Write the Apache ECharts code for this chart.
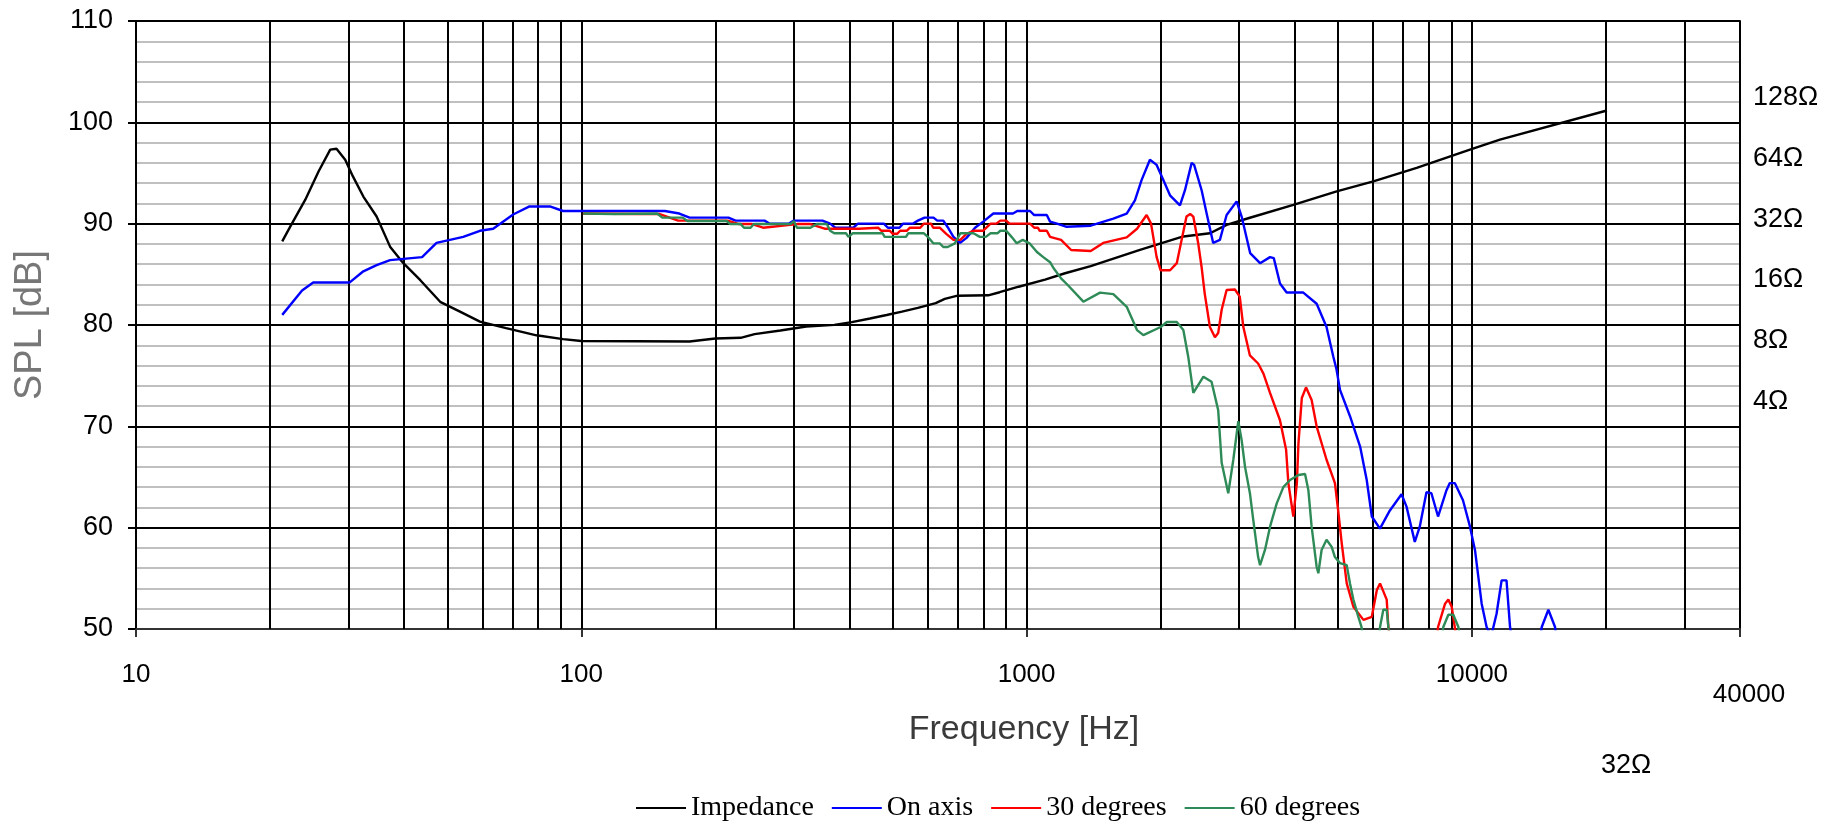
<!DOCTYPE html>
<html>
<head>
<meta charset="utf-8">
<title>SPL / Impedance</title>
<script src="https://cdn.jsdelivr.net/npm/echarts@6/dist/echarts.min.js"></script>
<style>
  html, body { margin: 0; padding: 0; background: #fff; }
  #chart { width: 1829px; height: 822px; }
</style>
</head>
<body>
<div id="chart"></div>
<script>
// [Hz, ohm]
const impedance = [
  [21.3, 20.7], [22.2, 24.5], [24.0, 33.3], [25.7, 45.9], [27.3, 58.9], [28.2, 59.5], [29.5, 52.5],
  [30.7, 43.4], [32.4, 34.5], [34.7, 27.5], [37.2, 19.5], [39.8, 16.2], [43.5, 13.3], [48.2, 10.4],
  [53.4, 9.3], [59.2, 8.3], [67.8, 7.7], [79.3, 7.1], [91, 6.8], [100, 6.65], [175, 6.62], [200, 6.85],
  [228, 6.9], [245, 7.2], [280, 7.5], [320, 7.85], [370, 8.0], [405, 8.25], [445, 8.6], [485, 8.95],
  [525, 9.3], [570, 9.7], [625, 10.25], [655, 10.75], [700, 11.15], [820, 11.2], [870, 11.6],
  [960, 12.35], [1100, 13.4], [1220, 14.4], [1393, 15.6], [1797, 18.8], [2249, 21.9], [2582, 22.7],
  [2813, 25.0], [3173, 27.1], [3972, 31.4], [4970, 36.6], [6007, 41.0], [7516, 47.8], [9900, 58.9],
  [11560, 66.0], [20100, 92.0]
];

// [Hz, dB]
const onAxis = [
  [21.3, 81.0], [23.6, 83.4], [25.0, 84.2], [30.2, 84.2], [32.4, 85.3], [34.7, 85.9], [37.2, 86.4],
  [43.9, 86.7], [47.3, 88.1], [54.3, 88.7], [59.2, 89.3], [63.4, 89.5], [70.3, 90.9], [76.5, 91.7],
  [85, 91.7], [91, 91.25], [154, 91.25], [166, 91.0], [175, 90.6], [214, 90.6], [222, 90.3],
  [258, 90.3], [265, 90.0], [292, 90.0], [300, 90.3], [348, 90.3], [362, 90.0], [372, 89.6],
  [408, 89.6], [418, 90.0], [478, 90.0], [488, 89.6], [518, 89.6], [528, 90.0], [555, 90.0],
  [570, 90.3], [590, 90.6], [618, 90.6], [630, 90.3], [650, 90.3], [665, 89.65], [685, 88.7],
  [709, 88.1], [733, 88.6], [766, 89.6], [799, 90.2], [842, 91.0], [932, 91.0], [953, 91.25],
  [1018, 91.25], [1040, 90.85], [1110, 90.85], [1129, 90.2], [1170, 90.0], [1226, 89.7], [1393, 89.8],
  [1566, 90.5], [1678, 91.0], [1751, 92.3], [1812, 94.3], [1892, 96.3], [1959, 95.8], [2028, 94.3],
  [2099, 92.8], [2210, 91.8], [2268, 93.3], [2348, 96.0], [2378, 95.8], [2472, 93.3], [2537, 91.0],
  [2624, 88.1], [2717, 88.4], [2813, 90.85], [2963, 92.2], [3040, 90.7], [3177, 87.1], [3344, 86.1],
  [3521, 86.7], [3590, 86.6], [3707, 84.1], [3837, 83.2], [4182, 83.2], [4481, 82.1], [4716, 79.8],
  [4883, 76.9], [4966, 75.6], [5056, 73.6], [5324, 71.0], [5610, 68.0], [5805, 64.7], [5960, 61.1],
  [6216, 59.9], [6544, 61.7], [6950, 63.3], [7129, 62.1], [7443, 58.6], [7637, 60.1], [7906, 63.5],
  [8111, 63.4], [8394, 61.1], [8769, 63.7], [8920, 64.4], [9152, 64.4], [9549, 62.7], [9901, 60.1],
  [10160, 57.8], [10518, 52.5], [10790, 50.2], [11050, 49.3], [11360, 51.5], [11660, 54.8],
  [11960, 54.8], [12180, 50.2], [12600, 46], [13900, 46], [14350, 50.2], [14850, 51.9],
  [15370, 50.2], [15600, 48]
];

const deg30 = [
  [100.8, 91.0], [133, 90.95], [150, 90.95], [165, 90.3], [213, 90.3], [226, 89.96], [242, 89.96],
  [256, 89.6], [305, 89.96], [327, 89.96], [352, 89.5], [420, 89.5], [464, 89.6], [472, 89.3],
  [493, 89.3], [500, 89.0], [512, 89.0], [520, 89.3], [538, 89.3], [547, 89.6], [577, 89.6],
  [588, 90.0], [610, 90.0], [617, 89.6], [638, 89.6], [660, 89.0], [685, 88.4], [710, 88.4],
  [733, 89.0], [760, 89.3], [798, 89.3], [830, 90.0], [855, 90.0], [873, 90.3], [900, 90.3],
  [915, 90.0], [1018, 90.0], [1040, 89.6], [1060, 89.6], [1070, 89.3], [1110, 89.3], [1129, 88.7],
  [1195, 88.4], [1259, 87.4], [1393, 87.3], [1486, 88.1], [1678, 88.65], [1770, 89.5], [1860, 90.85],
  [1903, 90.0], [1959, 86.7], [2000, 85.4], [2100, 85.4], [2174, 86.1], [2229, 88.4], [2286, 90.7],
  [2330, 90.95], [2368, 90.7], [2428, 88.1], [2471, 85.75], [2512, 83.1], [2580, 79.8], [2648, 78.8],
  [2693, 79.2], [2742, 81.5], [2813, 83.45], [2936, 83.5], [3011, 82.8], [3067, 79.8], [3173, 77.0],
  [3311, 76.2], [3403, 75.2], [3521, 73.3], [3707, 70.6], [3826, 67.7], [3871, 64.4], [3972, 61.1],
  [4045, 64.4], [4078, 68.3], [4150, 72.8], [4241, 73.85], [4366, 72.6], [4480, 70.0], [4716, 66.7],
  [4925, 64.4], [5008, 61.7], [5100, 58.5], [5235, 54.5], [5418, 52.2], [5707, 50.9], [5959, 51.2],
  [6117, 53.85], [6219, 54.5], [6437, 52.9], [6491, 50.2], [6700, 46], [8200, 46], [8394, 50.2],
  [8705, 52.5], [8853, 52.9], [9008, 52.2], [9152, 50.2], [9300, 48]
];

const deg60 = [
  [101, 91.0], [118, 90.95], [148, 91.0], [152, 90.6], [169, 90.6], [173, 90.26], [212, 90.26],
  [216, 89.96], [228, 89.96], [232, 89.6], [240, 89.6], [244, 89.96], [295, 89.96], [300, 90.26],
  [305, 89.6], [327, 89.6], [338, 89.96], [356, 89.96], [362, 89.3], [370, 89.05], [393, 89.05],
  [398, 88.7], [402, 88.7], [407, 89.05], [475, 89.05], [480, 88.7], [536, 88.7], [542, 89.05],
  [588, 89.05], [600, 88.7], [617, 88.06], [638, 88.06], [650, 87.7], [665, 87.7], [690, 88.06],
  [710, 89.05], [760, 89.05], [785, 88.7], [810, 88.7], [830, 89.05], [860, 89.05], [873, 89.3],
  [900, 89.3], [925, 88.7], [950, 88.06], [980, 88.4], [1015, 88.06], [1055, 87.2], [1090, 86.7],
  [1129, 86.2], [1150, 85.6], [1195, 84.6], [1240, 83.9], [1341, 82.3], [1462, 83.2], [1566, 83.05],
  [1678, 81.8], [1770, 79.5], [1829, 79.0], [2000, 79.8], [2066, 80.3], [2174, 80.3], [2249, 79.5],
  [2306, 76.9], [2368, 73.3], [2495, 74.9], [2602, 74.4], [2693, 71.6], [2742, 66.4], [2837, 63.4],
  [2912, 66.7], [2988, 70.5], [3040, 68.65], [3094, 66.0], [3173, 63.4], [3229, 60.75], [3311, 57.1],
  [3344, 56.3], [3430, 57.8], [3521, 60.1], [3645, 62.4], [3772, 64.0], [3905, 64.7], [4078, 65.2],
  [4220, 65.3], [4293, 63.7], [4366, 60.1], [4480, 56.15], [4520, 55.5], [4597, 57.8], [4716, 58.8],
  [4843, 58.1], [4925, 57.1], [5056, 56.5], [5235, 56.3], [5324, 54.5], [5418, 52.9], [5559, 51.2],
  [5650, 50.2], [5850, 46], [6100, 46], [6219, 50.2], [6325, 51.9], [6437, 51.9], [6491, 50.2],
  [6700, 46], [8450, 46], [8625, 50.2], [8853, 51.4], [9083, 51.4], [9325, 50.2], [9500, 48]
];

// vertical grid lines (Hz)
const gridFreqs = [20, 30, 40, 50, 60, 70, 80, 90, 100, 200, 300, 400, 500, 600, 700, 800, 900,
  1000, 2000, 3000, 4000, 5000, 6000, 7000, 8000, 9000, 10000, 20000, 30000];

const seriesNames = ['Impedance', 'On axis', '30 degrees', '60 degrees'];
const seriesColors = ['#000000', '#0000ff', '#ff0000', '#2e8b57'];
const strayLabel = '32Ω';

const FONT = 'Liberation Sans';
const chart = echarts.init(document.getElementById('chart'));

const makeLine = (i, data, axis) => ({
  name: seriesNames[i],
  type: 'line',
  data: data,
  yAxisIndex: axis,
  symbol: 'none',
  silent: true,
  clip: true,
  lineStyle: { color: seriesColors[i], width: 2.4 },
  itemStyle: { color: seriesColors[i] },
});

const impSeries = makeLine(0, impedance, 1);
// frequency grid drawn as marker lines under the curves
impSeries.markLine = {
  silent: true,
  z: 1,
  symbol: ['none', 'none'],
  label: { show: false },
  lineStyle: { type: 'solid', color: '#000', width: 2 },
  emphasis: { disabled: true },
  animation: false,
  data: gridFreqs.map((f) => ({ xAxis: f })),
};

const option = {
  animation: false,
  backgroundColor: '#fff',
  grid: { left: 136, right: 89, top: 21, bottom: 193, containLabel: false },
  legend: {
    data: seriesNames,
    left: 631,
    top: 789,
    icon: 'rect',
    itemWidth: 50,
    itemHeight: 2,
    itemGap: 18,
    textStyle: { fontFamily: 'Liberation Serif', fontSize: 28, color: '#000' },
  },
  xAxis: {
    type: 'log',
    logBase: 10,
    min: 10,
    max: 40000,
    axisLine: { onZero: false, lineStyle: { color: '#333', width: 2 } },
    axisTick: { show: true, length: 8, lineStyle: { color: '#333', width: 2 } },
    splitLine: { show: false },
    axisLabel: {
      margin: 33,
      fontFamily: FONT,
      fontSize: 26,
      color: '#000',
      formatter: (v) => {
        const n = Math.round(v);
        return n >= 39000 ? '{far|' + n + '}' : String(n);
      },
      rich: {
        far: { fontFamily: FONT, fontSize: 26, color: '#000', padding: [20, 0, 0, 18] },
      },
    },
    name: 'Frequency [Hz]',
    nameLocation: 'middle',
    nameGap: 81,
    nameTextStyle: { fontFamily: FONT, fontSize: 34, color: '#3a3a3a', padding: [0, 0, 0, 172] },
  },
  yAxis: [
    {
      type: 'value',
      min: 50,
      max: 110,
      interval: 10,
      axisLine: { show: true, lineStyle: { color: '#000', width: 2 } },
      axisTick: { show: true, length: 8, lineStyle: { color: '#000', width: 2 } },
      minorTick: { show: false, splitNumber: 5 },
      splitLine: { show: true, lineStyle: { color: '#000', width: 2 } },
      minorSplitLine: { show: true, lineStyle: { color: '#c0c0c0', width: 2 } },
      axisLabel: { margin: 23, fontFamily: FONT, fontSize: 27, color: '#000' },
      name: 'SPL [dB]',
      nameLocation: 'middle',
      nameGap: 86,
      nameTextStyle: { fontFamily: FONT, fontSize: 38, color: '#777' },
    },
    {
      type: 'log',
      logBase: 2,
      min: 0.25,
      max: 255,
      position: 'right',
      axisLine: { show: true, lineStyle: { color: '#000', width: 2 } },
      axisTick: { show: false },
      splitLine: { show: false },
      axisLabel: {
        margin: 13,
        fontFamily: FONT,
        fontSize: 27,
        color: '#000',
        formatter: (v) => {
          const n = Math.round(v);
          return n >= 4 && n <= 128 ? '{o|' + n + 'Ω}' : '';
        },
        rich: {
          o: { fontFamily: FONT, fontSize: 27, color: '#000', padding: [32, 0, 0, 0] },
        },
      },
    },
  ],
  graphic: [
    {
      type: 'text',
      left: 1601,
      top: 752,
      silent: true,
      style: { text: strayLabel, font: '27px "Liberation Sans"', fill: '#000' },
    },
  ],
  series: [
    impSeries,
    makeLine(1, onAxis, 0),
    makeLine(2, deg30, 0),
    makeLine(3, deg60, 0),
  ],
};

chart.setOption(option);
window.addEventListener('resize', () => chart.resize());
</script>
</body>
</html>
